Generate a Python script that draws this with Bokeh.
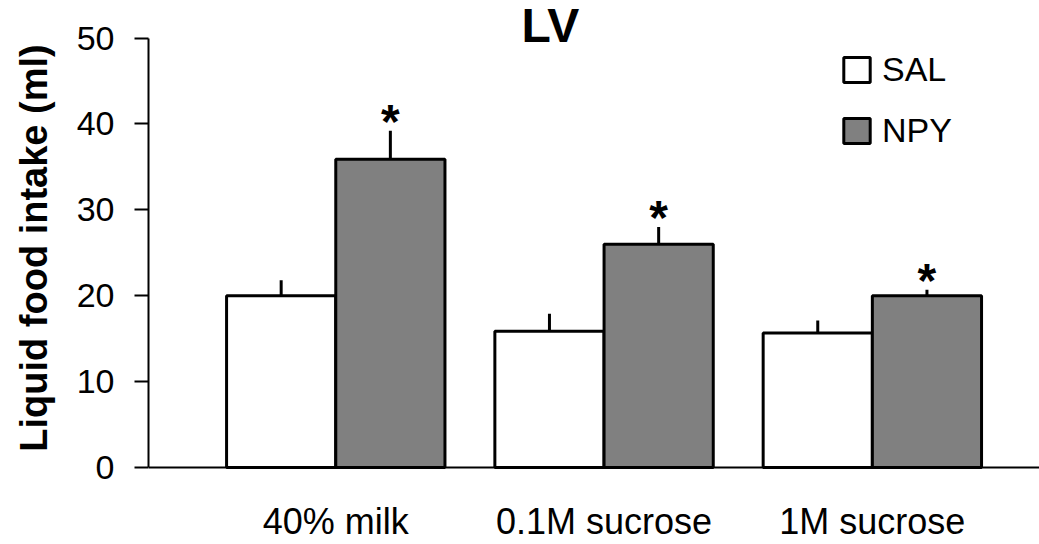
from bokeh.plotting import figure
from bokeh.models import Range1d, FixedTicker, Legend, LegendItem, Span
from bokeh.core.properties import value
from bokeh.embed import file_html
from bokeh.resources import INLINE
import numpy as np

# ---- data ----
categories = ["40% milk", "0.1M sucrose", "1M sucrose"]
sal_mean = [20.0, 15.85, 15.65]
sal_err = [1.8, 2.05, 1.45]
npy_mean = [35.9, 26.0, 20.0]
npy_err = [3.3, 2.0, 0.7]
y_ticks = [0, 10, 20, 30, 40, 50]
series_names = ["SAL", "NPY"]
title_text = "LV"
y_label = "Liquid food intake (ml)"

FONT = "Liberation Sans"
BAR_W = 0.407

pos = np.arange(1, len(categories) + 1)
sal_x = pos - BAR_W / 2
npy_x = pos + BAR_W / 2
sal_top = np.array(sal_mean) + np.array(sal_err)
npy_top = np.array(npy_mean) + np.array(npy_err)

p = figure(width=1039, height=544, output_backend="svg", toolbar_location=None,
           x_range=Range1d(0.302, 3.623), y_range=Range1d(-3.26, 54.37),
           min_border_left=148, min_border_right=0, min_border_top=0, min_border_bottom=49)
p.outline_line_color = None
p.grid.visible = False
p.background_fill_color = "white"
p.border_fill_color = "white"

sal = p.vbar(x=sal_x, top=sal_mean, bottom=0, width=BAR_W, fill_color="white",
             line_color="black", line_width=3)
npy = p.vbar(x=npy_x, top=npy_mean, bottom=0, width=BAR_W, fill_color="#808080",
             line_color="black", line_width=3)

p.segment(x0=sal_x, y0=sal_mean, x1=sal_x, y1=sal_top, line_color="black", line_width=3)
p.segment(x0=npy_x, y0=npy_mean, x1=npy_x, y1=npy_top, line_color="black", line_width=3)

# baseline (x axis line at zero)
p.add_layout(Span(location=0, dimension="width", line_color="black", line_width=2))

# significance stars above NPY error bars
p.text(x=npy_x, y=npy_top, text=["*"] * len(categories), text_align="center",
       text_baseline="alphabetic", y_offset=-9, text_font=value(FONT),
       text_font_size="48px", text_font_style="bold", text_color="black")

# title
p.text(x=[1.80], y=[51.5], text=[title_text], text_align="center", text_baseline="middle",
       text_font=value(FONT), text_font_size="48px", text_font_style="bold", text_color="black")

# y axis
ya = p.yaxis[0]
ya.ticker = FixedTicker(ticks=y_ticks)
ya.bounds = (0, 50)
ya.major_tick_out = 14
ya.major_tick_in = 0
ya.minor_tick_out = 0
ya.minor_tick_in = 0
ya.axis_line_width = 2
ya.major_tick_line_width = 2
ya.major_label_text_font = FONT
ya.major_label_text_font_size = "34px"
ya.major_label_text_color = "black"
ya.major_label_standoff = 20
ya.axis_label = y_label
ya.axis_label_text_font = FONT
ya.axis_label_text_font_size = "38px"
ya.axis_label_text_font_style = "bold"
ya.axis_label_text_color = "black"
ya.axis_label_standoff = 19

# x axis: category labels only (line drawn by the Span at zero)
xa = p.xaxis[0]
xa.ticker = FixedTicker(ticks=list(pos))
xa.major_label_overrides = {int(i): c for i, c in zip(pos, categories)}
xa.axis_line_color = None
xa.major_tick_out = 0
xa.major_tick_in = 0
xa.minor_tick_out = 0
xa.minor_tick_in = 0
xa.major_label_standoff = 5
xa.major_label_text_font = FONT
xa.major_label_text_font_size = "36px"
xa.major_label_text_color = "black"

legend = Legend(items=[LegendItem(label=series_names[0], renderers=[sal]),
                       LegendItem(label=series_names[1], renderers=[npy])],
                location=(692, 394 - 49), glyph_width=33, glyph_height=31, label_height=31,
                label_standoff=9, spacing=22, padding=0, margin=0,
                border_line_color=None, background_fill_alpha=0,
                label_text_font=FONT, label_text_font_size="34px",
                label_text_color="black")
p.add_layout(legend)

open("out.html", "w").write(file_html(p, INLINE))
